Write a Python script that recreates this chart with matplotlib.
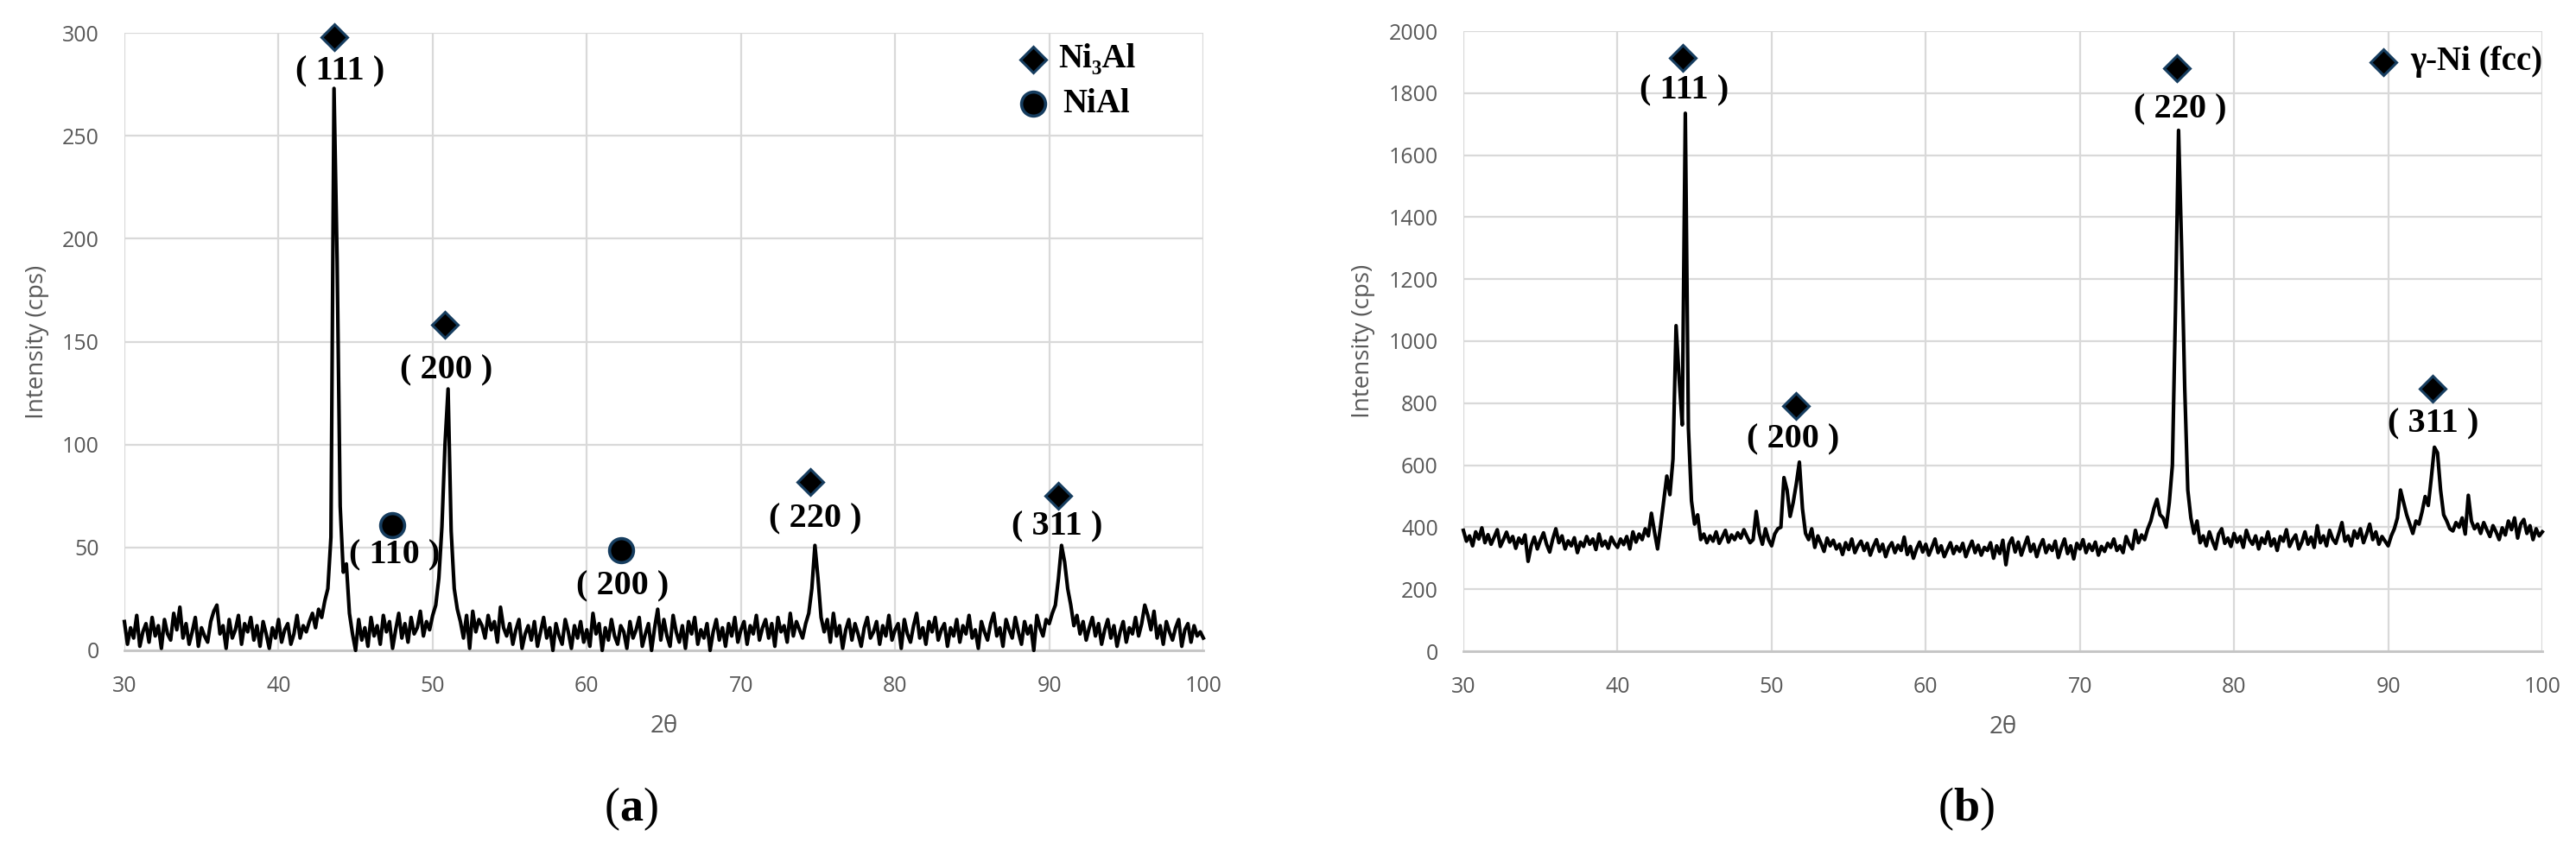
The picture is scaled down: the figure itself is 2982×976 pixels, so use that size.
import numpy as np
import matplotlib
matplotlib.use("Agg")
import matplotlib.pyplot as plt

# scan grid (both patterns recorded 30-100 deg, 0.2 deg step)
two_theta = np.arange(0, 351) * 0.2 + 30.0

# (a) Ni3Al + NiAl pattern, intensity in cps
intensity_a = [
    14, 3, 11, 6, 17, 2, 9, 13, 4, 16,          # 30
    7, 12, 1, 15, 8, 5, 18, 10, 21, 6,          # 32
    13, 3, 9, 16, 2, 11, 7, 4, 14, 19,          # 34
    22, 8, 12, 1, 15, 6, 10, 17, 3, 13,         # 36
    9, 16, 5, 12, 2, 14, 8, 1, 11, 6,           # 38
    15, 4, 10, 13, 3, 8, 17, 6, 12, 9,          # 40
    14, 18, 11, 20, 16, 24, 30, 55, 273, 190,   # 42
    70, 38, 42, 18, 8, 0, 15, 5, 11, 2,         # 44
    16, 7, 12, 3, 17, 9, 14, 1, 10, 18,         # 46
    6, 13, 4, 16, 8, 11, 19, 7, 14, 10,         # 48
    17, 22, 35, 60, 100, 127, 58, 30, 20, 14,   # 50
    6, 17, 1, 19, 9, 15, 12, 6, 17, 10,         # 52
    14, 4, 21, 11, 7, 13, 3, 10, 15, 1,         # 54
    8, 12, 5, 14, 2, 9, 16, 6, 11, 0,           # 56
    13, 7, 3, 15, 9, 1, 12, 6, 14, 4,           # 58
    10, 2, 18, 8, 13, 0, 11, 5, 15, 7,          # 60
    3, 12, 9, 1, 14, 6, 10, 16, 2, 8,           # 62
    13, 0, 11, 20, 5, 15, 7, 2, 17, 9,          # 64
    4, 12, 1, 14, 8, 16, 3, 10, 6, 13,          # 66
    0, 9, 15, 5, 11, 2, 13, 7, 16, 4,           # 68
    10, 14, 3, 12, 8, 17, 5, 11, 15, 6,         # 70
    13, 2, 16, 9, 12, 4, 18, 7, 14, 10,         # 72
    6, 13, 18, 30, 51, 35, 16, 9, 15, 4,        # 74
    18, 7, 12, 1, 10, 15, 5, 13, 8, 2,          # 76
    11, 16, 6, 9, 14, 3, 12, 7, 17, 5,          # 78
    10, 13, 1, 15, 8, 4, 12, 18, 6, 11,         # 80
    3, 14, 9, 16, 5, 10, 13, 2, 11, 7,          # 82
    15, 4, 12, 8, 17, 6, 10, 1, 14, 9,          # 84
    5, 13, 18, 7, 11, 2, 15, 10, 6, 16,         # 86
    9, 3, 14, 8, 12, 0, 17, 11, 7, 15,          # 88
    13, 18, 22, 35, 51, 43, 30, 22, 12, 17,     # 90
    8, 14, 5, 11, 16, 7, 13, 3, 10, 15,         # 92
    6, 12, 2, 9, 14, 4, 11, 8, 16, 7,           # 94
    13, 22, 17, 10, 19, 6, 12, 3, 14, 9,        # 96
    5, 11, 15, 2, 10, 13, 4, 12, 7, 9,          # 98
    6,                                          # 100
]

# (b) gamma-Ni pattern, intensity in cps
intensity_b = [
    390, 355, 372, 340, 385, 362, 398, 350, 376, 345,      # 30
    368, 392, 338, 360, 384, 352, 370, 332, 365, 348,      # 32
    375, 290, 340, 368, 330, 358, 382, 345, 320, 362,      # 34
    395, 350, 372, 330, 356, 340, 366, 318, 352, 338,      # 36
    370, 345, 362, 328, 378, 340, 355, 332, 368, 348,      # 38
    335, 362, 344, 370, 330, 385, 352, 378, 360, 395,      # 40
    372, 445, 385, 330, 405, 485, 565, 505, 620, 1050,     # 42
    880, 730, 1735, 720, 485, 410, 440, 360, 378, 350,     # 44
    372, 355, 385, 348, 368, 390, 352, 375, 360, 382,      # 46
    365, 392, 370, 350, 360, 451, 380, 345, 395, 360,      # 48
    340, 378, 395, 400, 560, 520, 435, 480, 540, 610,      # 50
    460, 380, 360, 395, 335, 372, 348, 322, 365, 340,      # 52
    358, 330, 345, 312, 350, 328, 362, 318, 340, 355,      # 54
    325, 348, 310, 338, 360, 322, 345, 305, 335, 350,      # 56
    318, 342, 325, 368, 312, 338, 300, 330, 352, 320,      # 58
    345, 310, 335, 362, 318, 340, 305, 328, 350, 315,      # 60
    338, 322, 348, 305, 332, 355, 318, 342, 310, 335,      # 62
    325, 350, 300, 340, 315, 358, 279, 345, 365, 320,      # 64
    352, 310, 340, 368, 322, 345, 305, 338, 360, 318,      # 66
    342, 325, 355, 302, 335, 362, 315, 340, 298, 348,      # 68
    330, 360, 318, 345, 325, 352, 310, 338, 322, 348,      # 70
    335, 362, 325, 340, 318, 370, 345, 330, 390, 350,      # 72
    375, 360, 395, 420, 460, 490, 440, 430, 400, 480,      # 74
    600, 1100, 1680, 1300, 850, 520, 430, 380, 420, 350,   # 76
    372, 340, 385, 355, 330, 378, 395, 348, 365, 338,      # 78
    380, 352, 370, 335, 390, 360, 345, 372, 330, 365,      # 80
    348, 385, 340, 362, 325, 370, 355, 392, 338, 360,      # 82
    375, 330, 352, 385, 345, 368, 335, 405, 350, 372,      # 84
    340, 390, 362, 348, 380, 415, 355, 372, 340, 388,      # 86
    365, 395, 350, 378, 410, 360, 385, 345, 370, 355,      # 88
    340, 372, 395, 430, 520, 480, 440, 410, 380, 420,      # 90
    410, 450, 499, 470, 560, 658, 640, 520, 440, 420,      # 92
    395, 388, 415, 400, 430, 378, 503, 420, 395, 410,      # 94
    380, 415, 392, 370, 405, 385, 360, 398, 375, 420,      # 96
    392, 430, 365, 410, 425, 380, 405, 360, 395, 372,      # 98
    385,                                                   # 100
]

# peak markers and (hkl) labels
ni3al_pos = [43.6, 50.8, 74.5, 90.6]
ni3al_mark = [298, 158, 82, 75]
ni3al_hkl = ['( 111 )', '( 200 )', '( 220 )', '( 311 )']
ni3al_lbl_x = [44.0, 50.9, 74.8, 90.5]
ni3al_lbl_y = [281, 136, 64, 60]

nial_pos = [47.4, 62.2]
nial_mark = [61, 48.5]
nial_hkl = ['( 110 )', '( 200 )']
nial_lbl_x = [47.5, 62.3]
nial_lbl_y = [46, 31]

gni_pos = [44.24, 51.6, 76.3, 92.9]
gni_mark = [1914, 791, 1880, 847]
gni_hkl = ['( 111 )', '( 200 )', '( 220 )', '( 311 )']
gni_lbl_x = [44.35, 51.4, 76.5, 92.9]
gni_lbl_y = [1808, 682, 1747, 732]

assert len(intensity_a) == len(two_theta) and len(intensity_b) == len(two_theta)

plt.rcParams['mathtext.fontset'] = 'custom'
plt.rcParams['mathtext.rm'] = 'Liberation Serif'
plt.rcParams['mathtext.bf'] = 'Liberation Serif:bold'

GRAY = '#595959'
EDGE = '#163d5f'
SERIF = ['Liberation Serif', 'DejaVu Serif']

fig = plt.figure(figsize=(29.82, 9.76), dpi=100)
W, H = 2982, 976
ax1 = fig.add_axes([144 / W, 1 - 753 / H, (1393 - 144) / W, (753 - 38) / H])
ax2 = fig.add_axes([1694 / W, 1 - 754 / H, (2943 - 1694) / W, (754 - 36) / H])


def style_axes(ax, ymax, ystep):
    ax.set_xlim(30, 100)
    ax.set_ylim(0, ymax)
    ax.set_xticks(range(30, 101, 10))
    ax.set_yticks(range(0, ymax + 1, ystep))
    ax.grid(True, color='#d9d9d9', lw=1.6)
    ax.set_axisbelow(True)
    for s in ['top', 'right', 'left']:
        ax.spines[s].set_visible(False)
    ax.spines['bottom'].set_color('#c4c4c4')
    ax.spines['bottom'].set_linewidth(2)
    ax.tick_params(length=0, pad=21, labelsize=18, labelcolor=GRAY)
    for t in ax.get_xticklabels() + ax.get_yticklabels():
        t.set_fontfamily('Open Sans')
    ax.set_xlabel('2θ', fontsize=20, color=GRAY, family='Open Sans', labelpad=14)
    ax.set_ylabel('Intensity (cps)', fontsize=20, color=GRAY, family='Open Sans', labelpad=11)


def hkl_labels(ax, xs, ys, texts):
    for x, y, t in zip(xs, ys, texts):
        ax.text(x, y, t, ha='center', va='center', fontsize=29, fontweight='bold',
                family=SERIF, zorder=5)


# ---- (a)
style_axes(ax1, 300, 50)
ax1.plot(two_theta, intensity_a, color='black', lw=3.0, clip_on=False, zorder=3)
ax1.plot(ni3al_pos, ni3al_mark, ls='none', marker='D', ms=15.5, mfc='black', mec=EDGE,
         mew=2.2, clip_on=False, zorder=6)
ax1.plot(nial_pos, nial_mark, ls='none', marker='o', ms=20, mfc='black', mec=EDGE,
         mew=2.6, clip_on=False, zorder=6)
hkl_labels(ax1, ni3al_lbl_x, ni3al_lbl_y, ni3al_hkl)
hkl_labels(ax1, nial_lbl_x, nial_lbl_y, nial_hkl)

ax1.plot([0.842], [0.957], transform=ax1.transAxes, marker='D', ms=15.5, mfc='black',
         mec=EDGE, mew=2.2, clip_on=False, zorder=6)
ax1.plot([0.842], [0.885], transform=ax1.transAxes, marker='o', ms=20, mfc='black',
         mec=EDGE, mew=2.6, clip_on=False, zorder=6)
ax1.text(0.866, 0.957, 'Ni₃Al', transform=ax1.transAxes, ha='left', va='center',
         fontsize=28, fontweight='bold', family=SERIF)
ax1.text(0.870, 0.885, 'NiAl', transform=ax1.transAxes, ha='left', va='center',
         fontsize=28, fontweight='bold', family=SERIF)

# ---- (b)
style_axes(ax2, 2000, 200)
ax2.plot(two_theta, intensity_b, color='black', lw=3.0, clip_on=False, zorder=3)
ax2.plot(gni_pos, gni_mark, ls='none', marker='D', ms=15.5, mfc='black', mec=EDGE,
         mew=2.2, clip_on=False, zorder=6)
hkl_labels(ax2, gni_lbl_x, gni_lbl_y, gni_hkl)
ax2.plot([0.853], [0.950], transform=ax2.transAxes, marker='D', ms=15.5, mfc='black',
         mec=EDGE, mew=2.2, clip_on=False, zorder=6)
ax2.text(0.8775, 0.950, 'γ-Ni (fcc)', transform=ax2.transAxes, ha='left', va='center',
         fontsize=28, fontweight='bold', family=SERIF)

# sub-figure captions
fig.text(730 / W, 1 - 937 / H, r'$(\mathbf{a})$', ha='center', va='center', fontsize=39)
fig.text(2276 / W, 1 - 937 / H, r'$(\mathbf{b})$', ha='center', va='center', fontsize=39)

fig.savefig('out.png', dpi=100, facecolor='white')
